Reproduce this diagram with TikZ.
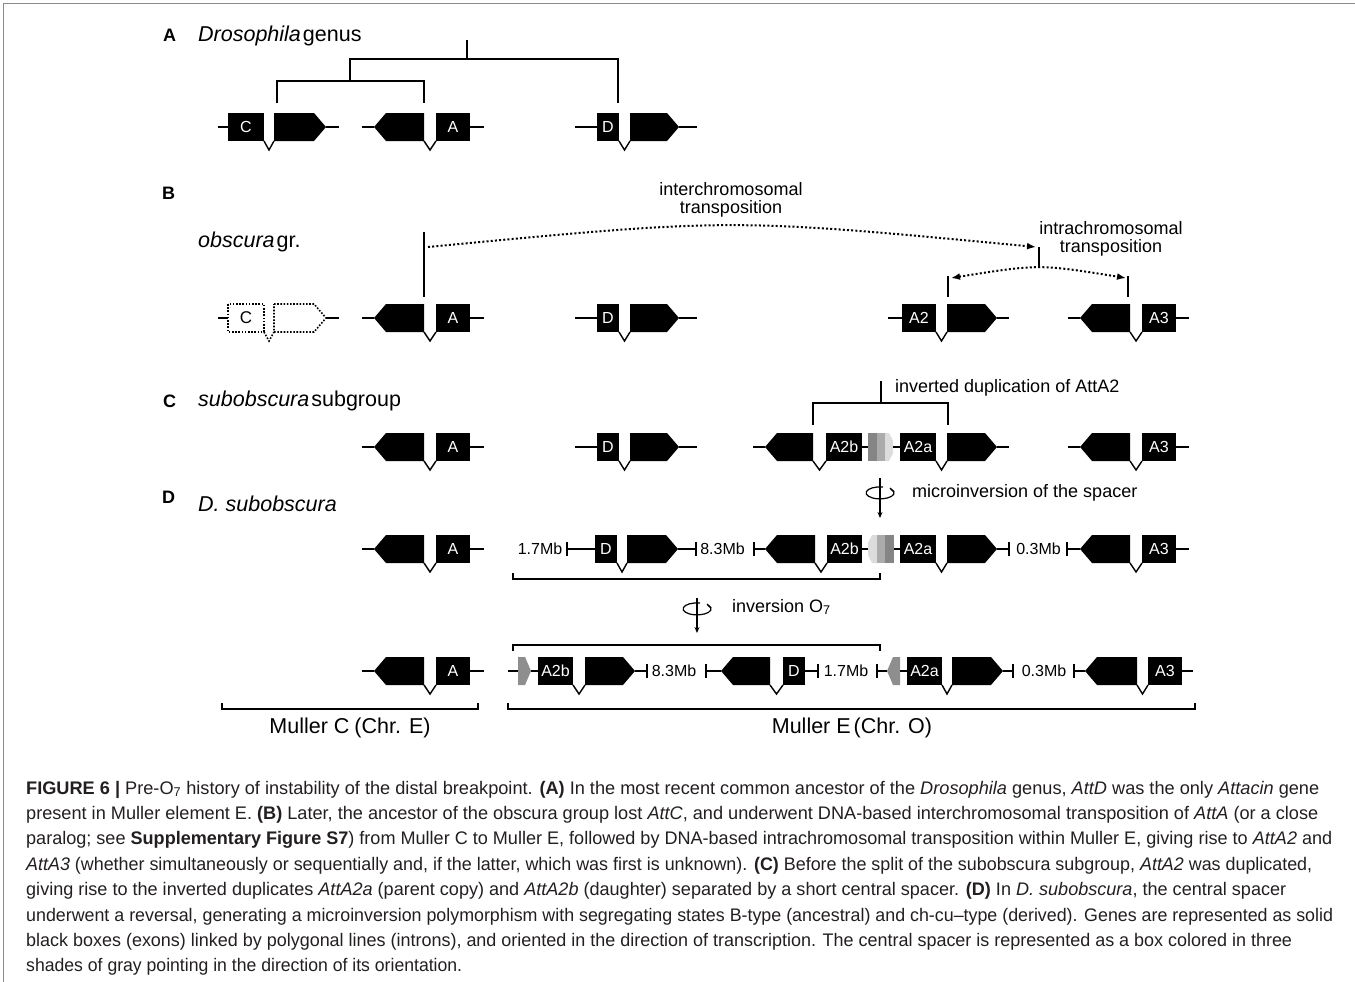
\documentclass[tikz,border=0pt]{standalone}
\usepackage{fontspec}
\usepackage{graphicx}
\setmainfont{Liberation Sans}
\newfontfamily\capfont[FakeStretch=0.87]{Liberation Sans}
\usetikzlibrary{arrows.meta}
\definecolor{capcol}{HTML}{231F20}
\definecolor{frame}{HTML}{8A8A8A}
\definecolor{spA}{HTML}{858585}
\definecolor{spB}{HTML}{ABABAB}
\definecolor{spC}{HTML}{DCDCDC}
\definecolor{spG}{HTML}{8E8E8E}
\newsavebox\capbox
\tikzset{
  gl/.style={line width=2pt},
  intr/.style={line width=1.4pt, line join=miter},
  tree/.style={line width=2pt},
  brk/.style={line width=1.6pt},
  dotl/.style={line width=1.6pt, dash pattern=on 1.6pt off 1.6pt},
  dotarc/.style={line width=2pt, dash pattern=on 2pt off 2.2pt},
  exonbox/.style={fill=black, text=white, inner sep=0pt, minimum height=28pt, font=\fontsize{16}{16}\selectfont},
  lbl/.style={inner sep=0pt, font=\fontsize{18}{20}\selectfont, align=center},
  mb/.style={inner sep=0pt, font=\fontsize{16}{16}\selectfont},
  ttl/.style={inner sep=0pt, anchor=west, font=\fontsize{21.5}{22}\selectfont},
  plet/.style={inner sep=0pt, anchor=west, font=\bfseries\fontsize{18}{18}\selectfont},
  mul/.style={inner sep=0pt, font=\fontsize{21.5}{22}\selectfont},
}
% line x1 x2 y
\newcommand\gl[3]{\draw[gl] (#1,#3) -- (#2,#3);}
% exon box: name x1 x2 y label
\newcommand\ex[5]{\node[exonbox, minimum width={(#3)-(#2)}] (#1) at ({((#2)+(#3))/2},#4) {#5};}
% pointed exons x1 x2 y
\newcommand\pR[3]{\fill (#1,{#3-14}) -- ({#2-12},{#3-14}) -- (#2,#3) -- ({#2-12},{#3+14}) -- (#1,{#3+14}) -- cycle;}
\newcommand\pL[3]{\fill (#2,{#3-14}) -- ({#1+12},{#3-14}) -- (#1,#3) -- ({#1+12},{#3+14}) -- (#2,{#3+14}) -- cycle;}
% intron V x1 x2 y
\newcommand\iv[3]{\draw[intr] (#1,{#3+14}) -- ({(#1+#2)/2},{#3+23}) -- (#2,{#3+14});}
% tick x y
\newcommand\tk[2]{\draw[gl] (#1,{#2-7}) -- (#1,{#2+7});}
% spacer pointing right x1 y
\newcommand\spR[2]{%
  \fill[spA] (#1,{#2-14}) rectangle ({#1+9},{#2+14});
  \fill[spB] ({#1+9},{#2-14}) rectangle ({#1+17},{#2+14});
  \fill[spC] ({#1+17},{#2-14}) -- ({#1+21},{#2-14}) -- ({#1+25},{#2-6}) -- ({#1+25},{#2+6}) -- ({#1+21},{#2+14}) -- ({#1+17},{#2+14}) -- cycle;}
\newcommand\spL[2]{%
  \fill[spC] ({#1+9},{#2-14}) -- ({#1+4},{#2-14}) -- (#1,{#2-6}) -- (#1,{#2+6}) -- ({#1+4},{#2+14}) -- ({#1+9},{#2+14}) -- cycle;
  \fill[spB] ({#1+9},{#2-14}) rectangle ({#1+17},{#2+14});
  \fill[spA] ({#1+17},{#2-14}) rectangle ({#1+26},{#2+14});}
% rotation symbol x ytop ymid ybot
\newcommand\rotsym[4]{%
  \draw[line width=1.3pt, -{Stealth[length=6pt,width=5pt]}] (#1,#2) -- (#1,#4);
  \draw[line width=1.2pt] ({#1+3},{#3-6}) arc[start angle=-78, end angle=-400, x radius=14, y radius=6];
  \draw[line width=1.2pt] ({#1+14},{#3-1}) -- ({#1+10},{#3-5});}
\newcommand\capline[5]{% name x baseline rightx text
  \node[anchor=base west, inner sep=0pt, text=capcol] (#1) at (#2,#3) {\sbox\capbox{\capfont\fontsize{18.2}{20}\selectfont #5}\pgfmathsetmacro\capsc{((#4)-(#2))/\wd\capbox}\scalebox{\capsc}[1]{\usebox\capbox}};}
\begin{document}
\begin{tikzpicture}[x=1pt,y=-1pt]
\useasboundingbox (0,0) rectangle (1355,982);
% frame
\draw[frame, line width=1pt] (3,982) -- (3,4) -- (1355,4);

% ---------------- Panel A
\node[plet] (la) at (163,35) {A};
\node[ttl] (ta) at (198,36) {\textit{Drosophila}\kern2pt genus};
\draw[tree] (467,40) -- (467,59);
\draw[tree] (350,81) -- (350,59) -- (618,59) -- (618,103);
\draw[tree] (277,103) -- (277,81) -- (424,81) -- (424,103);
% C
\gl{218}{228}{127}\ex{cA}{228}{264}{127}{C}\iv{264}{274}{127}\pR{274}{326}{127}\gl{326}{339}{127}
% A
\gl{362}{374}{127}\pL{374}{424}{127}\iv{424}{436}{127}\ex{aA}{436}{470}{127}{A}\gl{470}{484}{127}
% D
\gl{575}{597}{127}\ex{dA}{597}{619}{127}{D}\iv{619}{630}{127}\pR{630}{679}{127}\gl{679}{697}{127}

% ---------------- Panel B
\node[plet] (lb) at (162,193) {B};
\node[ttl] (tb) at (198,242) {\textit{obscura}\kern2pt gr.};
\node[lbl] (inter) at (731,200) {interchromosomal\\[-2pt]transposition};
\node[lbl] (intra) at (1111,239) {intrachromosomal\\[-2pt]transposition};
\draw[tree] (424,232) -- (424,297);
\draw[dotarc, -{Latex[length=9pt,width=7pt]}] (428,247) .. controls (731,218) .. (1036,247);
\draw[tree] (1039,247) -- (1039,268);
\draw[dotarc, {Latex[length=9pt,width=7pt]}-{Latex[length=9pt,width=7pt]}] (951,278) .. controls (1039,264) .. (1126,278);
\draw[tree] (948,276) -- (948,297);
\draw[tree] (1128,276) -- (1128,297);
% C dotted
\gl{218}{228}{318}
\draw[dotl] (228,304) rectangle (264,332);
\draw[dotl] (264,332) -- (269,341) -- (274,332);
\draw[dotl] (274,304) -- (314,304) -- (326,318) -- (314,332) -- (274,332) -- cycle;
\node[inner sep=0pt, font=\fontsize{17}{17}\selectfont] (cB) at (246,318) {C};
\gl{326}{339}{318}
% A
\gl{362}{374}{318}\pL{374}{424}{318}\iv{424}{436}{318}\ex{aB}{436}{470}{318}{A}\gl{470}{484}{318}
% D
\gl{575}{597}{318}\ex{dB}{597}{619}{318}{D}\iv{619}{630}{318}\pR{630}{679}{318}\gl{679}{697}{318}
% A2
\gl{888}{902}{318}\ex{a2B}{902}{936}{318}{A2}\iv{936}{947}{318}\pR{947}{997}{318}\gl{997}{1009}{318}
% A3
\gl{1068}{1080}{318}\pL{1080}{1130}{318}\iv{1130}{1142}{318}\ex{a3B}{1142}{1176}{318}{A3}\gl{1176}{1189}{318}

% ---------------- Panel C
\node[plet] (lc) at (163,401) {C};
\node[ttl] (tc) at (198,401) {\textit{subobscura}\kern2pt subgroup};
\node[lbl, anchor=west] (dup) at (895,388) {inverted duplication of AttA2};
\draw[tree] (881,381) -- (881,403);
\draw[tree] (813,425) -- (813,403) -- (948,403) -- (948,425);
\gl{362}{374}{447}\pL{374}{424}{447}\iv{424}{436}{447}\ex{aC}{436}{470}{447}{A}\gl{470}{484}{447}
\gl{575}{597}{447}\ex{dC}{597}{619}{447}{D}\iv{619}{630}{447}\pR{630}{679}{447}\gl{679}{697}{447}
\gl{753}{765}{447}\pL{765}{813}{447}\iv{813}{826}{447}\ex{a2bC}{826}{862}{447}{A2b}\gl{862}{868}{447}
\spR{868}{447}
\gl{893}{900}{447}\ex{a2aC}{900}{936}{447}{A2a}\iv{936}{947}{447}\pR{947}{997}{447}\gl{997}{1009}{447}
\gl{1068}{1080}{447}\pL{1080}{1130}{447}\iv{1130}{1142}{447}\ex{a3C}{1142}{1176}{447}{A3}\gl{1176}{1189}{447}
\rotsym{880}{478}{493}{518}
\node[lbl, anchor=west] (micro) at (912,493) {microinversion of the spacer};

% ---------------- Panel D
\node[plet] (ld) at (162,497) {D};
\node[ttl] (td) at (198,504) {\textit{D. subobscura}};
% row 1
\gl{362}{374}{549}\pL{374}{424}{549}\iv{424}{436}{549}\ex{aD}{436}{470}{549}{A}\gl{470}{484}{549}
\node[mb] (m17a) at (540,549) {1.7Mb};
\tk{567}{549}\gl{567}{595}{549}\ex{dD}{595}{617}{549}{D}\iv{617}{627}{549}\pR{627}{678}{549}\gl{678}{696}{549}\tk{696}{549}
\node[mb] (m83a) at (722.5,549) {8.3Mb};
\tk{754}{549}\gl{754}{765}{549}\pL{765}{815}{549}\iv{815}{827}{549}\ex{a2bD}{827}{862}{549}{A2b}\gl{862}{868}{549}
\spL{868}{549}
\gl{894}{900}{549}\ex{a2aD}{900}{936}{549}{A2a}\iv{936}{947}{549}\pR{947}{997}{549}\gl{997}{1009}{549}\tk{1009}{549}
\node[mb] (m03a) at (1038.5,549) {0.3Mb};
\tk{1067}{549}\gl{1067}{1080}{549}\pL{1080}{1130}{549}\iv{1130}{1142}{549}\ex{a3D}{1142}{1176}{549}{A3}\gl{1176}{1189}{549}
\draw[brk] (513,573) -- (513,579) -- (880,579) -- (880,573);
\rotsym{697}{598}{609}{633}
\node[lbl, anchor=west] (inv) at (732,607) {inversion O\textsubscript{7}};
\draw[brk] (513,651) -- (513,645) -- (880,645) -- (880,651);
% row 2
\gl{362}{374}{671}\pL{374}{424}{671}\iv{424}{436}{671}\ex{aE}{436}{470}{671}{A}\gl{470}{484}{671}
\gl{508}{518}{671}
\fill[spG] (518,657) -- (525,657) -- (531,671) -- (525,685) -- (518,685) -- cycle;
\gl{531}{538}{671}\ex{a2bE}{538}{573}{671}{A2b}\iv{573}{585}{671}\pR{585}{635}{671}\gl{635}{647}{671}\tk{647}{671}
\node[mb] (m83b) at (674,671) {8.3Mb};
\tk{706}{671}\gl{706}{721}{671}\pL{721}{770}{671}\iv{770}{783}{671}\ex{dE}{783}{805}{671}{D}\gl{805}{818}{671}\tk{818}{671}
\node[mb] (m17b) at (846,671) {1.7Mb};
\tk{877}{671}\gl{877}{887}{671}
\fill[spG] (900,657) -- (893,657) -- (887,671) -- (893,685) -- (900,685) -- cycle;
\gl{900}{907}{671}\ex{a2aE}{907}{942}{671}{A2a}\iv{942}{952}{671}\pR{952}{1003}{671}\gl{1003}{1013}{671}\tk{1013}{671}
\node[mb] (m03b) at (1044,671) {0.3Mb};
\tk{1074}{671}\gl{1074}{1085}{671}\pL{1085}{1137}{671}\iv{1137}{1148}{671}\ex{a3E}{1148}{1182}{671}{A3}\gl{1182}{1193}{671}
% Muller brackets
\draw[brk] (222,703) -- (222,709) -- (478,709) -- (478,703);
\draw[brk] (508,703) -- (508,709) -- (1195,709) -- (1195,703);
\node[mul] (mc) at (350,728) {Muller C\kern5pt (Chr. E)};
\node[mul] (me) at (852,728) {Muller E\kern3pt(Chr. O)};

% ---------------- Caption
\capline{c1}{26}{794}{1319}{\textbf{FIGURE 6 |} Pre-O\textsubscript{7} history of instability of the distal breakpoint. \textbf{(A)} In the most recent common ancestor of the \textit{Drosophila} genus, \textit{AttD} was the only \textit{Attacin} gene}
\capline{c2}{26}{819.4}{1318}{present in Muller element E. \textbf{(B)} Later, the ancestor of the obscura group lost \textit{AttC}, and underwent DNA-based interchromosomal transposition of \textit{AttA} (or a close}
\capline{c3}{26}{844.8}{1332}{paralog; see \textbf{Supplementary Figure S7}) from Muller C to Muller E, followed by DNA-based intrachromosomal transposition within Muller E, giving rise to \textit{AttA2} and}
\capline{c4}{26}{870.2}{1312}{\textit{AttA3} (whether simultaneously or sequentially and, if the latter, which was first is unknown). \textbf{(C)} Before the split of the subobscura subgroup, \textit{AttA2} was duplicated,}
\capline{c5}{26}{895.6}{1286}{giving rise to the inverted duplicates \textit{AttA2a} (parent copy) and \textit{AttA2b} (daughter) separated by a short central spacer. \textbf{(D)} In \textit{D. subobscura}, the central spacer}
\capline{c6}{26}{921}{1333}{underwent a reversal, generating a microinversion polymorphism with segregating states B-type (ancestral) and ch-cu–type (derived). Genes are represented as solid}
\capline{c7}{26}{946.4}{1292}{black boxes (exons) linked by polygonal lines (introns), and oriented in the direction of transcription. The central spacer is represented as a box colored in three}
\capline{c8}{26}{971.8}{462}{shades of gray pointing in the direction of its orientation.}
\end{tikzpicture}
\end{document}
